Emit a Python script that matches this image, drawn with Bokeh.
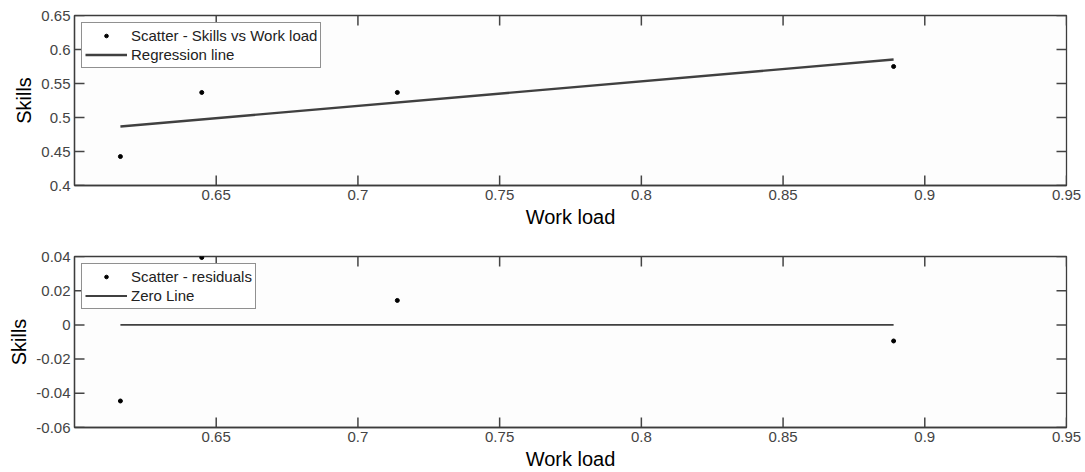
from bokeh.plotting import figure
from bokeh.models import FixedTicker, Legend, LegendItem
from bokeh.layouts import column
from bokeh.embed import file_html
from bokeh.resources import INLINE

# ---- data ----
work_load = [0.6162, 0.6449, 0.7139, 0.8890]
skills = [0.4426, 0.5368, 0.5368, 0.5750]
reg_x = [0.6162, 0.8890]
reg_y = [0.4868, 0.5853]
residuals = [-0.0445, 0.0394, 0.0143, -0.0094]
zero_x = [0.6162, 0.8890]
zero_y = [0.0, 0.0]

x_ticks = [0.65, 0.7, 0.75, 0.8, 0.85, 0.9, 0.95]
x_tick_labels = ["0.65", "0.7", "0.75", "0.8", "0.85", "0.9", "0.95"]
y1_ticks = [0.4, 0.45, 0.5, 0.55, 0.6, 0.65]
y1_tick_labels = ["0.4", "0.45", "0.5", "0.55", "0.6", "0.65"]
y2_ticks = [-0.06, -0.04, -0.02, 0.0, 0.02, 0.04]
y2_tick_labels = ["-0.06", "-0.04", "-0.02", "0", "0.02", "0.04"]

FONT = "Liberation Sans"
AX = "#3c3c3c"
LINE = "#404040"
X_RANGE = (0.6, 0.95)
FRAME_W = 992.0
TICK_PX = 10.0


def style_axis(ax, ticks, labels, axis_label):
    ax.ticker = FixedTicker(ticks=ticks)
    ax.major_label_overrides = {t: l for t, l in zip(ticks, labels)}
    ax.major_tick_in = 0
    ax.major_tick_out = 0
    ax.major_tick_line_color = None
    ax.minor_tick_line_color = None
    ax.axis_line_color = AX
    ax.axis_line_width = 1.3
    ax.major_label_text_font = FONT
    ax.major_label_text_color = "#444444"
    ax.major_label_text_font_size = "15px"
    ax.major_label_standoff = 4
    ax.axis_label = axis_label
    ax.axis_label_text_font = FONT
    ax.axis_label_text_font_size = "20px"
    ax.axis_label_text_font_style = "normal"
    ax.axis_label_text_color = "#000000"
    ax.axis_label_standoff = 3


def make_fig(yr, yticks, ylabels, top, bottom, frame_h):
    p = figure(width=1085, height=236, x_range=X_RANGE, y_range=yr,
               output_backend="svg", toolbar_location=None,
               min_border_left=74, min_border_right=19,
               min_border_top=top, min_border_bottom=bottom,
               background_fill_color="#fdfdfd", border_fill_color="white")
    p.grid.visible = False
    p.outline_line_color = AX
    p.outline_line_width = 1.3
    style_axis(p.xaxis[0], x_ticks, x_tick_labels, "Work load")
    style_axis(p.yaxis[0], yticks, ylabels, "Skills")
    # inward tick marks on all four sides, as short segments
    ylo, yhi = yr
    xlo, xhi = X_RANGE
    dy = (yhi - ylo) * TICK_PX / frame_h
    dx = (xhi - xlo) * TICK_PX / FRAME_W
    n, m = len(x_ticks), len(yticks)
    kw = dict(line_color="#444444", line_width=1.5)
    p.segment(x0=x_ticks, y0=[ylo] * n, x1=x_ticks, y1=[ylo + dy] * n, **kw)
    p.segment(x0=x_ticks, y0=[yhi] * n, x1=x_ticks, y1=[yhi - dy] * n, **kw)
    p.segment(x0=[xlo] * m, y0=yticks, x1=[xlo + dx] * m, y1=yticks, **kw)
    p.segment(x0=[xhi] * m, y0=yticks, x1=[xhi - dx] * m, y1=yticks, **kw)
    return p


def style_legend(lg):
    lg.location = "top_left"
    lg.margin = 7
    lg.padding = 3
    lg.spacing = 0
    lg.glyph_width = 42
    lg.glyph_height = 9
    lg.label_height = 19
    lg.label_standoff = 4
    lg.label_text_font = FONT
    lg.label_text_font_size = "15px"
    lg.label_text_color = "#222222"
    lg.border_line_color = "#222222"
    lg.border_line_width = 1.2
    lg.background_fill_color = "white"
    lg.background_fill_alpha = 1.0


# ---- top plot ----
p1 = make_fig((0.4, 0.65), y1_ticks, y1_tick_labels, 15, 51, 170.0)
s1 = p1.scatter(work_load, skills, size=4, color="black", marker="circle")
l1 = p1.line(reg_x, reg_y, line_color=LINE, line_width=2.4)
lg1 = Legend(items=[LegendItem(label="Scatter - Skills vs Work load", renderers=[s1]),
                    LegendItem(label="Regression line", renderers=[l1])])
style_legend(lg1)
p1.add_layout(lg1, "center")

# ---- bottom plot ----
p2 = make_fig((-0.06, 0.04), y2_ticks, y2_tick_labels, 20, 45, 171.0)
s2 = p2.scatter(work_load, residuals, size=4, color="black", marker="circle")
l2 = p2.line(zero_x, zero_y, line_color=LINE, line_width=1.8)
lg2 = Legend(items=[LegendItem(label="Scatter - residuals", renderers=[s2]),
                    LegendItem(label="Zero Line", renderers=[l2])])
style_legend(lg2)
p2.add_layout(lg2, "center")

layout = column(p1, p2, spacing=0)
open("out.html", "w").write(file_html(layout, INLINE))
